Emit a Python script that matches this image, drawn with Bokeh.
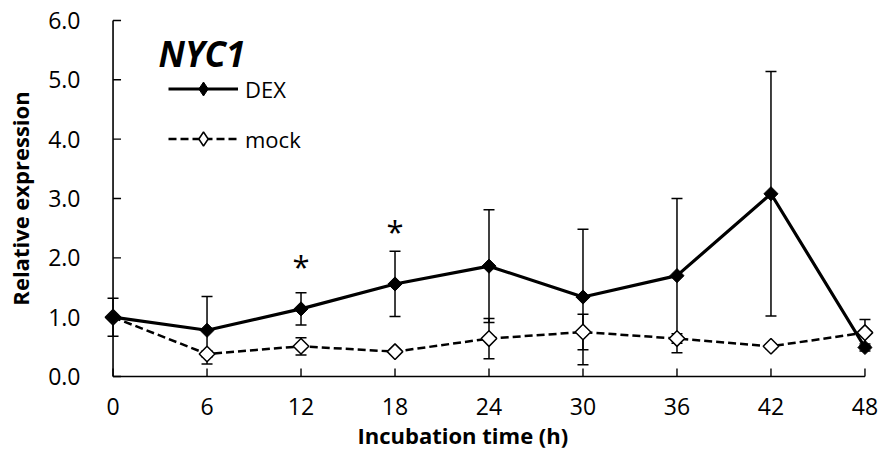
import math
from bokeh.plotting import figure
from bokeh.models import (ColumnDataSource, Whisker, TeeHead, Legend, LegendItem,
                          FixedTicker, Label, Title)
from bokeh.core.properties import value
from bokeh.embed import file_html
from bokeh.resources import INLINE

# ---- data ----
hours = [0, 6, 12, 18, 24, 30, 36, 42, 48]
dex_mean = [1.00, 0.78, 1.14, 1.56, 1.86, 1.34, 1.70, 3.08, 0.49]
dex_err = [0.32, 0.57, 0.27, 0.55, 0.95, 1.14, 1.30, 2.06, 0.06]
mock_mean = [1.00, 0.38, 0.51, 0.42, 0.64, 0.75, 0.64, 0.51, 0.74]
mock_err = [0.00, 0.05, 0.145, 0.04, 0.34, 0.30, 0.08, 0.04, 0.22]
x_ticks = [0, 6, 12, 18, 24, 30, 36, 42, 48]
x_tick_labels = ["0", "6", "12", "18", "24", "30", "36", "42", "48"]
y_ticks = [0, 1, 2, 3, 4, 5, 6]
y_tick_labels = ["0.0", "1.0", "2.0", "3.0", "4.0", "5.0", "6.0"]
star_hours = [12, 18]
star_y = [1.87, 2.45]
gene = "NYC1"
series_names = ["DEX", "mock"]

FONT = "Open Sans"

p = figure(frame_width=777, frame_height=368,
           min_border_left=100, min_border_right=5,
           min_border_top=14, min_border_bottom=71,
           x_range=(-0.8, 48.8), y_range=(-0.1, 6.1),
           output_backend="svg", toolbar_location=None)
p.outline_line_color = None
p.grid.grid_line_color = None
p.background_fill_color = "white"
p.border_fill_color = "white"

for ax in (p.xaxis[0], p.yaxis[0]):
    ax.axis_line_color = None
    ax.major_tick_line_color = None
    ax.minor_tick_line_color = None
    ax.major_tick_out = 0
    ax.major_tick_in = 0
    ax.major_label_text_font = FONT
    ax.major_label_text_font_size = "23px"
    ax.major_label_text_color = "black"

p.xaxis.ticker = FixedTicker(ticks=x_ticks)
p.xaxis.major_label_overrides = {t: l for t, l in zip(x_ticks, x_tick_labels)}
p.xaxis.major_label_standoff = 15
p.yaxis.ticker = FixedTicker(ticks=y_ticks)
p.yaxis.major_label_overrides = {t: l for t, l in zip(y_ticks, y_tick_labels)}
p.yaxis.major_label_standoff = 20

p.yaxis.axis_label = "Relative expression"
p.yaxis.axis_label_text_font = FONT
p.yaxis.axis_label_text_font_style = "bold"
p.yaxis.axis_label_text_font_size = "22px"
p.yaxis.axis_label_standoff = 10
p.yaxis.axis_label_text_color = "black"

# x-axis title, placed below the axis
p.add_layout(Title(text="Incubation time (h)", align="left", offset=257,
                   text_font=FONT, text_font_style="bold", text_font_size="22px",
                   text_color="black", standoff=0), "below")

# axis lines at data zero
p.segment(x0=[x_ticks[0], x_ticks[0]], y0=[y_ticks[0], y_ticks[0]],
          x1=[x_ticks[0], x_ticks[-1]], y1=[y_ticks[-1], y_ticks[0]],
          line_color="black", line_width=1.6)
# inward ticks
p.ray(x=[x_ticks[0]] * len(y_ticks), y=y_ticks, length=8, length_units="screen",
      angle=0, line_color="black", line_width=1.4)
p.ray(x=x_ticks, y=[y_ticks[0]] * len(x_ticks), length=8, length_units="screen",
      angle=math.pi / 2, line_color="black", line_width=1.4)

# error bars
src_dex = ColumnDataSource(dict(x=hours, y=dex_mean,
                                lo=[m - e for m, e in zip(dex_mean, dex_err)],
                                hi=[m + e for m, e in zip(dex_mean, dex_err)]))
src_mock = ColumnDataSource(dict(x=hours, y=mock_mean,
                                 lo=[m - e for m, e in zip(mock_mean, mock_err)],
                                 hi=[m + e for m, e in zip(mock_mean, mock_err)]))
for src in (src_dex, src_mock):
    w = Whisker(source=src, base="x", upper="hi", lower="lo",
                line_color="black", line_width=1.5,
                upper_head=TeeHead(size=11, line_color="black", line_width=1.5),
                lower_head=TeeHead(size=11, line_color="black", line_width=1.5))
    p.add_layout(w)

# series
l_mock = p.line("x", "y", source=src_mock, line_color="black", line_width=2.5,
                line_dash="8 4")
s_mock = p.scatter("x", "y", source=src_mock, marker="square", angle=math.pi / 4,
                   size=11, fill_color="white", line_color="black", line_width=1.5)
l_dex = p.line("x", "y", source=src_dex, line_color="black", line_width=3.2)
s_dex = p.scatter("x", "y", source=src_dex, marker="square", angle=math.pi / 4,
                  size=10, fill_color="black", line_color="black", line_width=1)

# legend-only diamond markers (no visible points in the plot)
nan = float("nan")
leg_dex = p.scatter(x=[nan], y=[nan], marker="diamond", fill_color="black",
                    line_color="black", line_width=1)
leg_mock = p.scatter(x=[nan], y=[nan], marker="diamond", fill_color="white",
                     line_color="black", line_width=1.5)

# significance stars
p.text(x=star_hours, y=star_y, text=["*"] * len(star_hours),
       text_font=value(FONT), text_font_size="31px", text_align="center",
       text_baseline="middle", text_color="black")

# gene title
p.add_layout(Label(x=2.9, y=5.45, text=gene, text_font=FONT,
                   text_font_style="bold italic", text_font_size="35px",
                   text_baseline="alphabetic", text_color="black"))

legend = Legend(items=[LegendItem(label=series_names[0], renderers=[l_dex, leg_dex]),
                       LegendItem(label=series_names[1], renderers=[l_mock, leg_mock])],
                location=(68, 226), orientation="vertical",
                glyph_width=70, glyph_height=35, label_height=35, spacing=15,
                label_standoff=7, padding=0, margin=0,
                border_line_color=None, background_fill_alpha=0,
                label_text_font=FONT, label_text_font_size="22px",
                label_text_color="black")
p.add_layout(legend)

open("out.html", "w").write(file_html(p, INLINE))
